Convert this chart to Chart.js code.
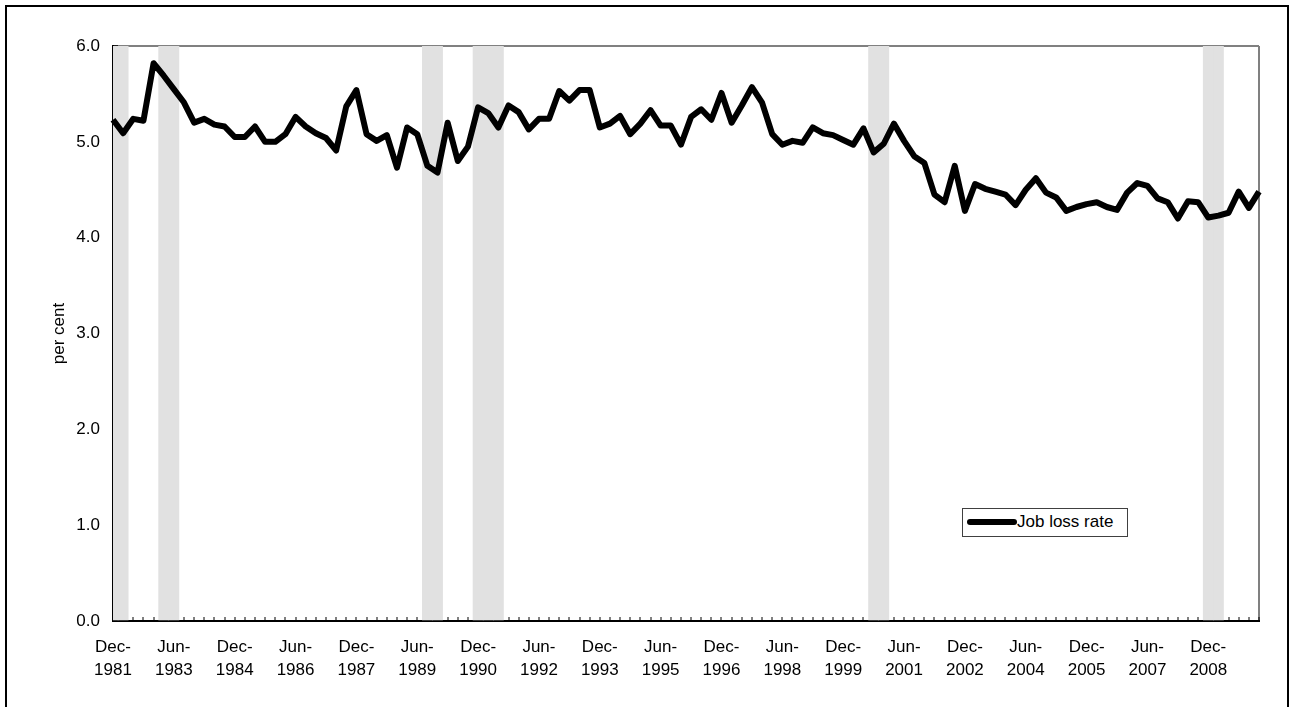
<!DOCTYPE html>
<html>
<head>
<meta charset="utf-8">
<script src="https://cdn.jsdelivr.net/npm/chart.js@4.4.1/dist/chart.umd.min.js"></script>
<style>
  html, body { margin: 0; padding: 0; background: #fff; overflow: hidden; }
  #marco { position: absolute; left: 5px; top: 5px; width: 1280px; height: 720px; border: 2px solid #000; }
  #caja { position: absolute; left: 0; top: 0; width: 1294px; height: 707px; }
  #leyenda { position: absolute; left: 962px; top: 508px; width: 164px; height: 27px; border: 1px solid #404040;
             background: #fff; font-family: 'Liberation Sans', Arial, sans-serif; font-size: 17px; color: #000; }
  #leyenda .muestra { position: absolute; left: 4px; top: 10px; width: 50px; height: 6px; border-radius: 3px; }
  #leyenda .texto { position: absolute; left: 54px; top: 3px; white-space: nowrap; }
</style>
</head>
<body>
<div id="marco"></div>
<div id="caja"><canvas id="grafico"></canvas></div>
<div id="leyenda"><span class="muestra"></span><span class="texto"></span></div>
<script>
// job loss rate, quarterly, Dec-1981 onwards (per cent)
const jobLossRate = [
  5.23, 5.09, 5.24, 5.22, 5.82, 5.69, 5.55, 5.41, 5.20, 5.24,
  5.18, 5.16, 5.05, 5.05, 5.16, 5.00, 5.00, 5.08, 5.26, 5.16,
  5.09, 5.04, 4.91, 5.37, 5.54, 5.08, 5.01, 5.07, 4.73, 5.15,
  5.08, 4.75, 4.68, 5.20, 4.80, 4.95, 5.36, 5.30, 5.15, 5.38,
  5.31, 5.13, 5.24, 5.24, 5.53, 5.43, 5.54, 5.54, 5.15, 5.19,
  5.27, 5.08, 5.19, 5.33, 5.17, 5.17, 4.97, 5.26, 5.34, 5.23,
  5.51, 5.20, 5.38, 5.57, 5.41, 5.08, 4.97, 5.01, 4.99, 5.15,
  5.09, 5.07, 5.02, 4.97, 5.14, 4.89, 4.98, 5.19, 5.01, 4.85,
  4.78, 4.45, 4.37, 4.75, 4.28, 4.56, 4.51, 4.48, 4.45, 4.34,
  4.50, 4.62, 4.47, 4.42, 4.28, 4.32, 4.35, 4.37, 4.32, 4.29,
  4.47, 4.57, 4.54, 4.41, 4.37, 4.20, 4.38, 4.37, 4.21, 4.23,
  4.26, 4.48, 4.31, 4.48
];

// quarters shaded grey
const recessionQuarters = [
  'Dec-1981', 'Mar-1982', 'Mar-1983', 'Jun-1983',
  'Sep-1989', 'Dec-1989', 'Dec-1990', 'Mar-1991', 'Jun-1991',
  'Sep-2000', 'Dec-2000', 'Dec-2008', 'Mar-2009'
];

const yTicks = [0, 1, 2, 3, 4, 5, 6];
const quarterMonths = ['Mar', 'Jun', 'Sep', 'Dec'];
const firstYear = 1981;
const labelEvery = 6;

// Dec-1981, Mar-1982, ...
const quarters = [];
for (let i = 0; i < jobLossRate.length; i++) {
  const q = i + 3;
  quarters.push(quarterMonths[q % 4] + '-' + (firstYear + Math.floor(q / 4)));
}
const shading = quarters.map(q => recessionQuarters.includes(q) ? yTicks[yTicks.length - 1] : null);

const fuente = "'Liberation Sans', Arial, sans-serif";
Chart.defaults.font.family = fuente;
Chart.defaults.font.size = 17;
Chart.defaults.color = '#000';

const ctx = document.getElementById('grafico').getContext('2d');
const grafico = new Chart(ctx, {
  type: 'line',
  data: {
    labels: quarters,
    datasets: [{
      type: 'line',
      label: 'Job loss rate',
      data: jobLossRate,
      borderColor: '#000',
      borderWidth: 6,
      borderJoinStyle: 'round',
      pointRadius: 0,
      tension: 0,
      order: 1
    }, {
      type: 'bar',
      label: 'recession',
      data: shading,
      backgroundColor: '#e1e1e1',
      borderWidth: 0,
      barPercentage: 1,
      categoryPercentage: 1,
      order: 2
    }]
  },
  options: {
    responsive: true,
    maintainAspectRatio: false,
    animation: false,
    layout: { padding: { top: 46, right: 35, bottom: 0, left: 0 } },
    plugins: {
      legend: { display: false },
      tooltip: { enabled: false }
    },
    scales: {
      x: {
        type: 'category',
        offset: false,
        z: 1,
        afterFit: (s) => { s.height = 86; },
        border: { color: '#000', width: 2 },
        grid: {
          offset: false,
          drawOnChartArea: true,
          color: (c) => c.index === quarters.length - 1 ? '#808080' : 'rgba(0,0,0,0)',
          lineWidth: 2,
          tickColor: '#000',
          tickWidth: 1,
          tickLength: -4
        },
        ticks: {
          autoSkip: false,
          maxRotation: 0,
          minRotation: 0,
          padding: 19,
          font: { size: 17, lineHeight: 1.35 },
          callback: function (value, index) {
            if (index % labelEvery !== 0) return '';
            const partes = this.getLabelForValue(value).split('-');
            return [partes[0] + '-', partes[1]];
          }
        }
      },
      y: {
        min: yTicks[0],
        max: yTicks[yTicks.length - 1],
        z: 1,
        afterFit: (s) => { s.width = 113; },
        border: { color: '#000', width: 2 },
        grid: {
          color: (c) => c.tick && c.tick.value === yTicks[yTicks.length - 1] ? '#808080' : 'rgba(0,0,0,0)',
          lineWidth: 2,
          tickColor: '#000',
          tickWidth: 1.5,
          tickLength: -5
        },
        ticks: {
          stepSize: 1,
          padding: 18,
          font: { size: 17 },
          callback: (v) => Number(v).toFixed(1)
        },
        title: {
          display: true,
          text: 'per cent',
          font: { size: 17 },
          padding: { top: 49, bottom: 0 }
        }
      }
    }
  }
});

// legend box inside the plot, built from the line dataset
const serie = grafico.data.datasets[0];
document.querySelector('#leyenda .muestra').style.background = serie.borderColor;
document.querySelector('#leyenda .texto').textContent = serie.label;
</script>
</body>
</html>
